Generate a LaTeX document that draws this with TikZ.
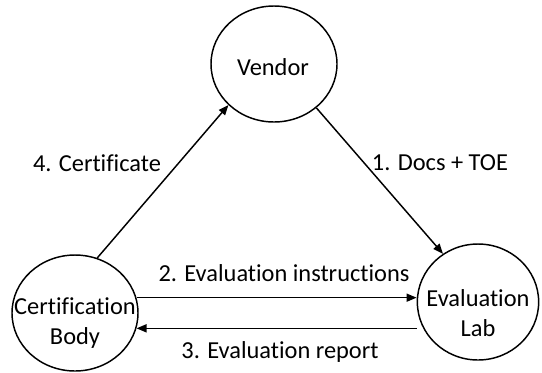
\documentclass[tikz,border=0pt]{standalone}
\usepackage{fontspec}
\setmainfont{Carlito}[Ligatures=NoCommon]
\usepackage{tikz}
\usetikzlibrary{shapes.geometric,arrows.meta}

\begin{document}
\begin{tikzpicture}[x=0.75pt,y=0.75pt,yscale=-1,xscale=1,
  party/.style={draw,ellipse,line width=1.1pt,inner sep=0pt,
    minimum width=94.5pt,minimum height=87pt},
  partytext/.style={inner sep=0pt,align=center,font=\fontsize{18.3}{22.5}\selectfont},
  flow/.style={-{Triangle[length=7.5pt,width=6pt]},line width=1.1pt},
  lbl/.style={inner sep=0.75pt,font=\fontsize{18.3}{22}\selectfont}]
\useasboundingbox (0,0) rectangle (542,372);

% Parties
\node [party] (vendor) at (274,64) {};
\node [party] (cert) at (75,313) {};
\node [party,minimum width=91pt] (lab) at (478,302) {};
\node [partytext] (vendortxt) at (273,67) {Vendor};
\node [partytext] (certtxt) at (75,323) {Certification\\Body};
\node [partytext] (labtxt) at (478,313) {Evaluation\\Lab};

% Flows
\draw [flow] (vendor.314) -- (lab.126);
\draw [flow] (cert.14) -- (cert.14 -| lab.west);
\draw [flow] (lab.west |- cert.-14) -- (cert.-14);
\draw [flow] (cert.68) -- (vendor.222);

% Text Node
\node [lbl] (docs) at (440,163) {1. Docs + TOE};
% Text Node
\node [lbl] (instr) at (284,273) {2. Evaluation instructions};
% Text Node
\node [lbl] (report) at (280,352) {3. Evaluation report};
% Text Node
\node [lbl] (certif) at (97,163) {4. Certificate};

\end{tikzpicture}
\end{document}
